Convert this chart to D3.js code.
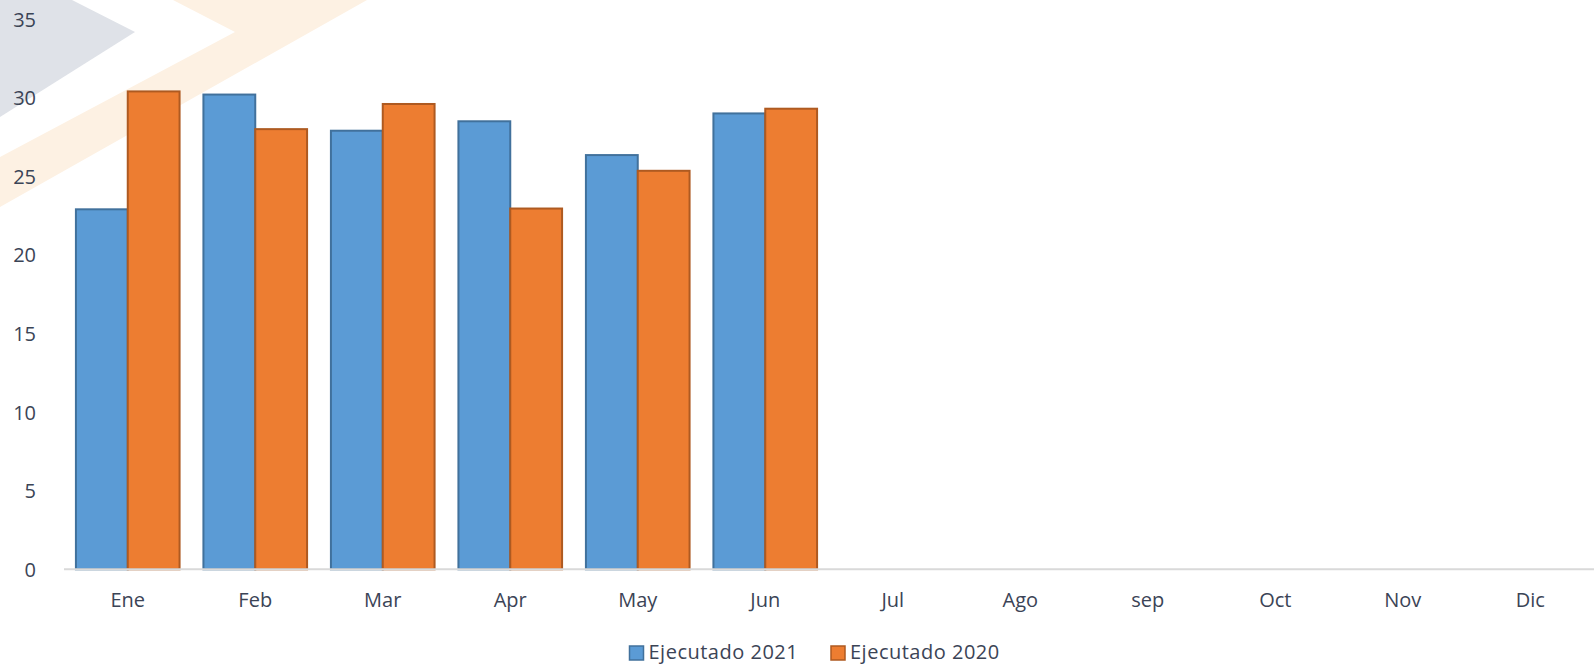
<!DOCTYPE html>
<html>
<head>
<meta charset="utf-8">
<script src="https://cdn.jsdelivr.net/npm/d3@7"></script>
<style>
  html, body { margin: 0; padding: 0; background: #ffffff; }
  svg { display: block; }
</style>
</head>
<body>
<svg id="chart" width="1595" height="664"></svg>
<script>
const months = ["Ene","Feb","Mar","Apr","May","Jun","Jul","Ago","sep","Oct","Nov","Dic"];
const values2021 = [22.9, 30.2, 27.9, 28.5, 26.35, 29.0];
const values2020 = [30.4, 28.0, 29.6, 22.95, 25.35, 29.3];
const seriesNames = ["Ejecutado 2021", "Ejecutado 2020"];
const yTicks = [0, 5, 10, 15, 20, 25, 30, 35];

const fills = ["#5B9BD5", "#ED7D31"];
const strokes = ["#41719C", "#AE5A21"];
const textColor = "#3b4456";
const font = "'Open Sans', sans-serif";

const svg = d3.select("#chart");

// watermark
svg.append("polygon")
  .attr("points", "0,0 72,0 135,32 0,117")
  .attr("fill", "#dfe2e8");
svg.append("polygon")
  .attr("points", "173,0 367,0 0,207 0,157 235,32")
  .attr("fill", "#fdf1e3");

const x = d3.scaleBand().domain(months).range([64, 1594]).paddingInner(0.187).paddingOuter(0.0935);
const xs = d3.scaleBand().domain(seriesNames).range([0, x.bandwidth()]);
const y = d3.scaleLinear().domain([0, 35]).range([569.3, 19.1]);

const data = [];
months.forEach((m, i) => {
  if (i < values2021.length) data.push({m, s: 0, v: values2021[i]});
  if (i < values2020.length) data.push({m, s: 1, v: values2020[i]});
});

// bars
svg.append("g").selectAll("rect").data(data).join("rect")
  .attr("x", d => x(d.m) + xs(seriesNames[d.s]))
  .attr("y", d => y(d.v))
  .attr("width", xs.bandwidth())
  .attr("height", d => y(0) - y(d.v))
  .attr("fill", d => fills[d.s])
  .attr("stroke", d => strokes[d.s])
  .attr("stroke-width", 2);

// baseline
svg.append("line")
  .attr("x1", 64).attr("x2", 1594)
  .attr("y1", y(0)).attr("y2", y(0))
  .attr("stroke", "#d9d9d9").attr("stroke-width", 2);

// y axis labels
const yAxis = d3.axisLeft(y).tickValues(yTicks).tickSize(0).tickPadding(0);
const gy = svg.append("g").attr("transform", "translate(36,0)").call(yAxis);
gy.select(".domain").remove();
gy.selectAll("text")
  .attr("fill", textColor)
  .style("font-family", font)
  .style("font-size", "20px")
  .attr("dy", "0.35em");

// x axis labels
const xAxis = d3.axisBottom(x).tickSize(0).tickPadding(0);
const gx = svg.append("g").attr("transform", "translate(0,600)").call(xAxis);
gx.select(".domain").remove();
gx.selectAll("text")
  .attr("fill", textColor)
  .style("font-family", font)
  .style("font-size", "20px")
  .attr("y", 0)
  .attr("dy", "0.35em");

// legend
const legendX = [629.5, 831];
const lg = svg.append("g");
seriesNames.forEach((name, i) => {
  lg.append("rect")
    .attr("x", legendX[i]).attr("y", 646)
    .attr("width", 14).attr("height", 14)
    .attr("fill", fills[i]).attr("stroke", strokes[i]).attr("stroke-width", 1.5);
  lg.append("text")
    .attr("x", legendX[i] + 19).attr("y", 658.5)
    .attr("fill", textColor)
    .style("font-family", font)
    .style("font-size", "20px")
    .style("letter-spacing", "0.5px")
    .text(name);
});
</script>
</body>
</html>
